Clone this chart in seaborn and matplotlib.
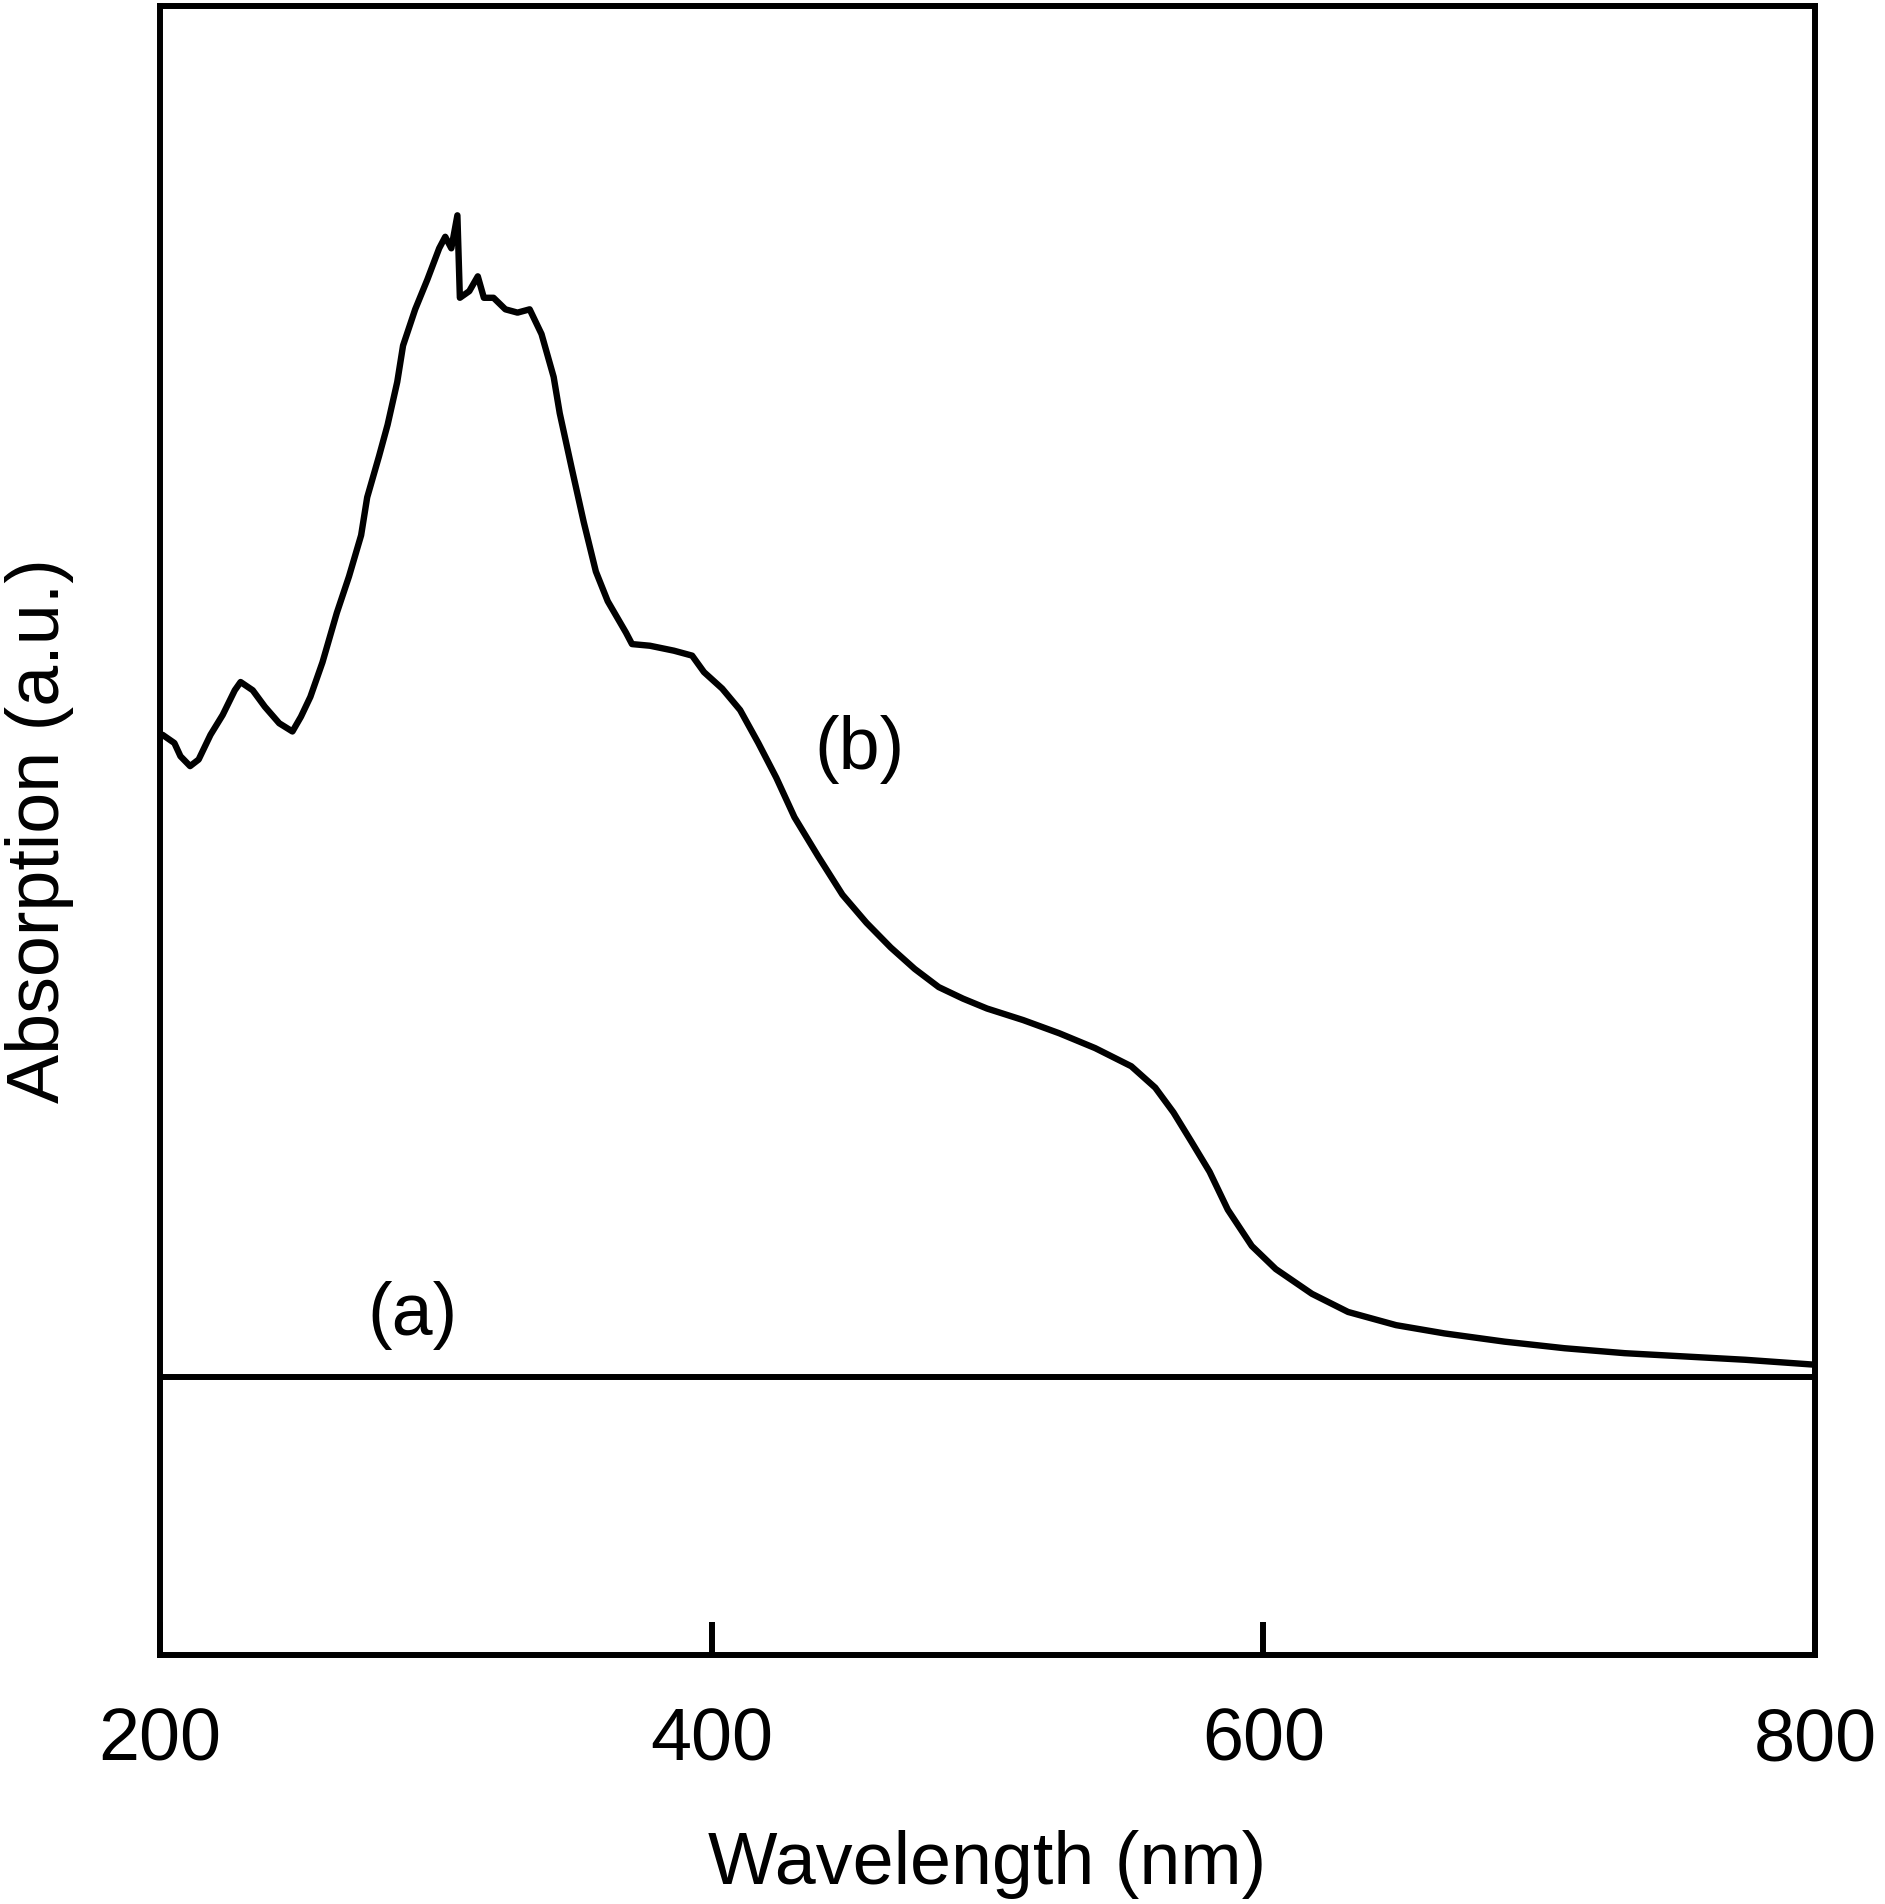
import matplotlib
matplotlib.use("Agg")
import matplotlib.pyplot as plt
import seaborn as sns
import pandas as pd

# ---- data ----
wavelength_b = [200.9, 205.2, 207.4, 210.9, 214.0, 218.3, 222.7, 227.1, 229.2, 233.6,
                238.0, 243.2, 248.0, 251.1, 254.5, 258.9, 264.1, 268.5, 272.9, 275.1,
                279.4, 282.5, 286.0, 288.1, 292.5, 296.9, 301.2, 303.4, 305.6, 307.8,
                308.7, 312.1, 315.2, 317.4, 320.9, 325.2, 329.6, 334.0, 338.3, 342.7,
                344.9, 349.2, 353.6, 358.0, 362.3, 368.9, 371.1, 377.6, 386.3, 392.9,
                397.2, 403.8, 410.3, 416.9, 423.4, 430.0, 438.7, 447.4, 456.1, 464.9,
                473.6, 482.3, 491.1, 499.8, 512.9, 526.0, 539.0, 552.1, 560.8, 567.4,
                574.0, 580.5, 587.1, 595.8, 604.5, 617.6, 630.7, 648.1, 665.6, 687.4,
                709.2, 731.0, 752.9, 774.7, 800.0]
absorption_b = [0.558, 0.553, 0.545, 0.539, 0.543, 0.558, 0.570, 0.585, 0.590, 0.585,
                0.575, 0.565, 0.560, 0.569, 0.581, 0.602, 0.632, 0.654, 0.679, 0.702,
                0.727, 0.746, 0.772, 0.794, 0.816, 0.834, 0.853, 0.860, 0.853, 0.873,
                0.823, 0.827, 0.836, 0.823, 0.823, 0.816, 0.814, 0.816, 0.801, 0.775,
                0.753, 0.720, 0.687, 0.657, 0.639, 0.620, 0.613, 0.612, 0.609, 0.606,
                0.596, 0.586, 0.573, 0.553, 0.532, 0.508, 0.484, 0.461, 0.444, 0.429,
                0.416, 0.405, 0.398, 0.392, 0.385, 0.377, 0.368, 0.357, 0.344, 0.329,
                0.311, 0.293, 0.270, 0.248, 0.234, 0.219, 0.208, 0.200, 0.195, 0.190,
                0.186, 0.183, 0.181, 0.179, 0.176]
wavelength_a = [200, 800]
absorption_a = [0.1686, 0.1686]
x_ticks = [200, 400, 600, 800]
x_tick_labels = ["200", "400", "600", "800"]

sns.set_theme(style="white")
plt.rcParams['font.family'] = ['Liberation Sans', 'DejaVu Sans']

fig = plt.figure(figsize=(18.85, 19.04), dpi=100)
ax = fig.add_axes([0.0849, 0.1308, 0.878, 0.8661])

df_b = pd.DataFrame({"wl": wavelength_b, "abs": absorption_b})
df_a = pd.DataFrame({"wl": wavelength_a, "abs": absorption_a})
sns.lineplot(data=df_a, x="wl", y="abs", ax=ax, color="black", linewidth=4.3, estimator=None, sort=False)
sns.lineplot(data=df_b, x="wl", y="abs", ax=ax, color="black", linewidth=4.6, estimator=None, sort=False)

ax.set_xlim(200, 800)
ax.set_ylim(0, 1)
ax.set_xticks(x_ticks)
ax.set_xticklabels(x_tick_labels)
ax.set_yticks([])
ax.tick_params(axis="x", direction="in", length=24, width=4.3, pad=37,
               labelsize=53, colors="black", bottom=True, top=False)
for s in ax.spines.values():
    s.set_color("black")
    s.set_linewidth(4.3)

ax.set_xlabel("Wavelength (nm)", fontsize=53, labelpad=39, color="black")
ax.set_ylabel("Absorption (a.u.)", fontsize=53, labelpad=62, color="black")

ax.text(291.7, 0.206, "(a)", fontsize=53, ha="center", va="center", color="black")
ax.text(453.4, 0.549, "(b)", fontsize=53, ha="center", va="center", color="black")

fig.savefig("out.png", dpi=100, facecolor="white")
